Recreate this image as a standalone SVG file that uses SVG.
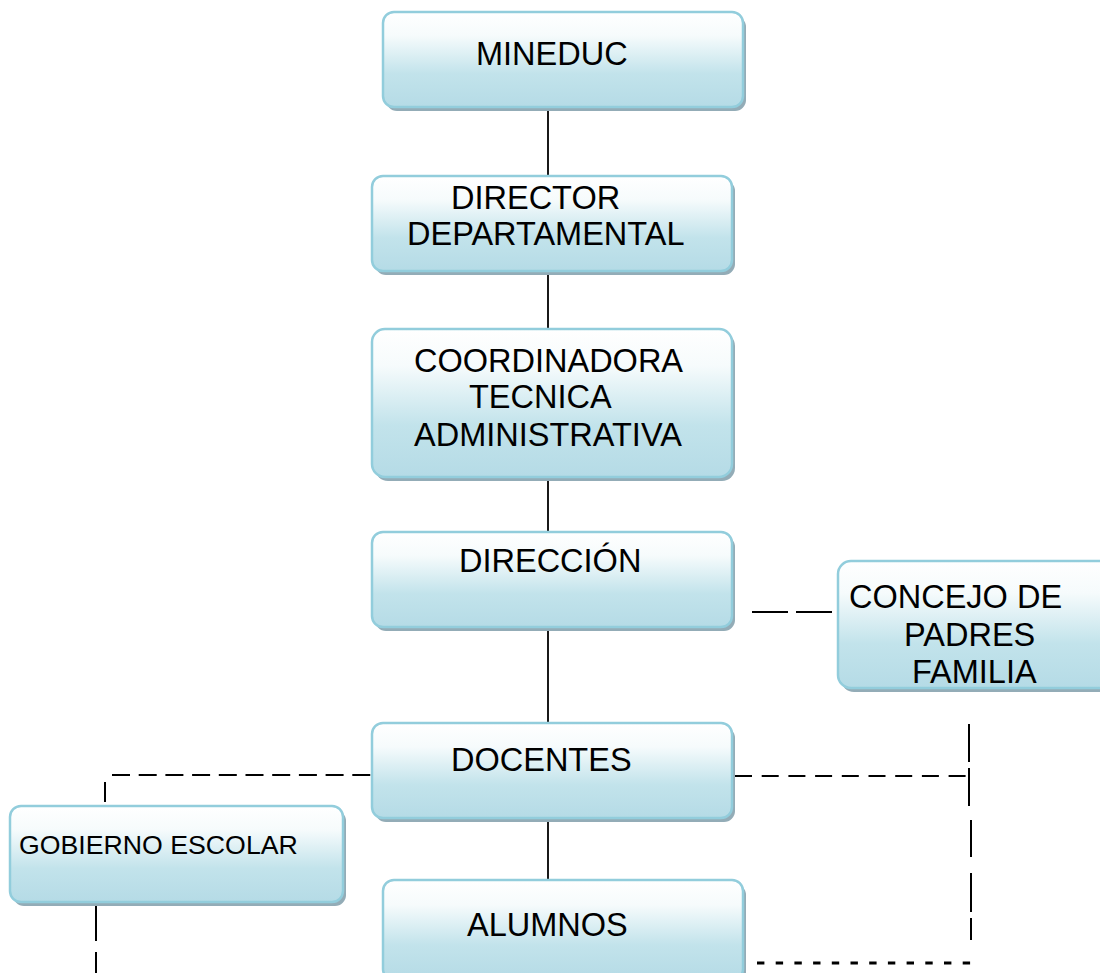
<svg xmlns="http://www.w3.org/2000/svg" width="1100" height="973" viewBox="0 0 1100 973">
  <defs>
    <linearGradient id="boxFill" x1="0" y1="0" x2="0" y2="1">
      <stop offset="0" stop-color="#ffffff"/>
      <stop offset="0.25" stop-color="#f6fbfc"/>
      <stop offset="0.65" stop-color="#c2e3eb"/>
      <stop offset="1" stop-color="#b5dbe6"/>
    </linearGradient>
  </defs>
  <style>
    .shadow { fill: #93acb7; }
    .box { fill: url(#boxFill); stroke: #92cddc; stroke-width: 2.5; }
    .t { font-family: "Liberation Sans", Arial, sans-serif; font-size: 32.5px; fill: #000000; }
    .ts { font-family: "Liberation Sans", Arial, sans-serif; font-size: 26.7px; fill: #000000; }
    .solid { stroke: #000000; stroke-width: 1.8; fill: none; }
    .dash { stroke: #000000; stroke-width: 2; fill: none; }
  </style>
  <rect width="1100" height="973" fill="#ffffff"/>

  <g id="connectors">
    <line class="solid" x1="548" y1="107" x2="548" y2="176"/>
    <line class="solid" x1="548" y1="271" x2="548" y2="329"/>
    <line class="solid" x1="548" y1="477" x2="548" y2="532"/>
    <line class="solid" x1="548" y1="627" x2="548" y2="723"/>
    <line class="solid" x1="548" y1="818" x2="548" y2="880"/>
    <line class="dash" x1="752" y1="612" x2="832" y2="612" stroke-dasharray="36 8"/>
    <line class="dash" x1="735" y1="776" x2="967" y2="776" stroke-dasharray="17 9.7"/>
    <line class="dash" x1="969" y1="724" x2="969" y2="808" stroke-dasharray="38 6"/>
    <line class="dash" x1="971" y1="820" x2="971" y2="940" stroke-dasharray="37 16 39 6"/>
    <line x1="757" y1="963" x2="972" y2="963" stroke="#000000" stroke-width="3" stroke-dasharray="7.4 11.3"/>
    <line class="dash" x1="112" y1="775" x2="372" y2="775" stroke-dasharray="18 8.7"/>
    <line class="dash" x1="105" y1="782" x2="105" y2="802"/>
    <line class="dash" x1="96" y1="905" x2="96" y2="973" stroke-dasharray="36 11"/>
  </g>

  <g id="node-mineduc">
    <rect class="shadow" x="386" y="16" width="360" height="95" rx="11"/>
    <rect class="box" x="383" y="12" width="360" height="95" rx="11"/>
    <text class="t" x="476" y="65">MINEDUC</text>
  </g>

  <g id="node-director">
    <rect class="shadow" x="375" y="180" width="360" height="95" rx="11"/>
    <rect class="box" x="372" y="176" width="360" height="95" rx="11"/>
    <text class="t" x="451" y="209">DIRECTOR</text>
    <text class="t" x="407" y="245">DEPARTAMENTAL</text>
  </g>

  <g id="node-coordinadora">
    <rect class="shadow" x="375" y="333" width="360" height="148" rx="13"/>
    <rect class="box" x="372" y="329" width="360" height="148" rx="13"/>
    <text class="t" x="414" y="372">COORDINADORA</text>
    <text class="t" x="469" y="408">TECNICA</text>
    <text class="t" x="414" y="446">ADMINISTRATIVA</text>
  </g>

  <g id="node-direccion">
    <rect class="shadow" x="375" y="536" width="360" height="95" rx="11"/>
    <rect class="box" x="372" y="532" width="360" height="95" rx="11"/>
    <text class="t" x="459" y="572">DIRECCIÓN</text>
  </g>

  <g id="node-concejo">
    <rect class="shadow" x="841" y="565" width="275" height="127" rx="13"/>
    <rect class="box" x="838" y="561" width="275" height="127" rx="13"/>
    <text class="t" x="849" y="608">CONCEJO DE</text>
    <text class="t" x="904" y="646">PADRES</text>
    <text class="t" x="912" y="683">FAMILIA</text>
  </g>

  <g id="node-docentes">
    <rect class="shadow" x="375" y="727" width="360" height="95" rx="11"/>
    <rect class="box" x="372" y="723" width="360" height="95" rx="11"/>
    <text class="t" x="451" y="771">DOCENTES</text>
  </g>

  <g id="node-gobierno">
    <rect class="shadow" x="13" y="810" width="333" height="96" rx="11"/>
    <rect class="box" x="10" y="806" width="333" height="96" rx="11"/>
    <text class="ts" x="19" y="854">GOBIERNO ESCOLAR</text>
  </g>

  <g id="node-alumnos">
    <rect class="shadow" x="386" y="884" width="360" height="100" rx="11"/>
    <rect class="box" x="383" y="880" width="360" height="100" rx="11"/>
    <text class="t" x="467" y="936">ALUMNOS</text>
  </g>
</svg>
